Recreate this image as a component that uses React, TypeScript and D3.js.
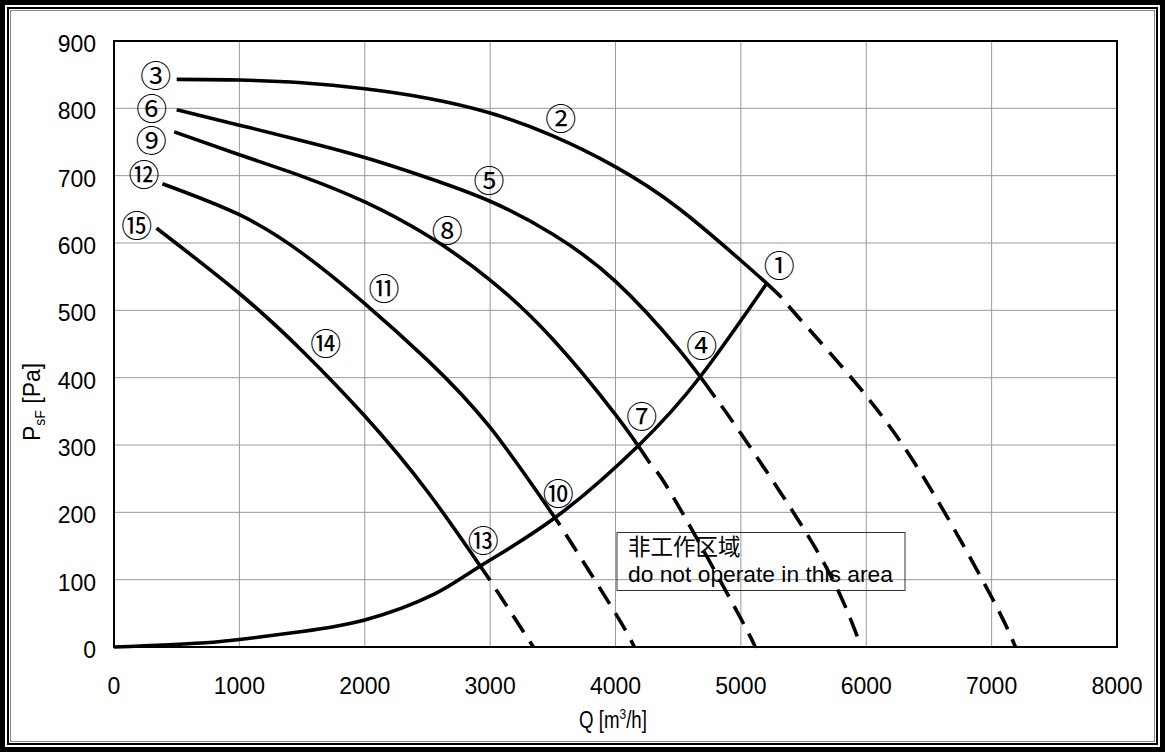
import React from "react";
import * as d3 from "d3";

type Pt = [number, number];

// Axis ticks
const xTicks = [0, 1000, 2000, 3000, 4000, 5000, 6000, 7000, 8000];
const yTicks = [0, 100, 200, 300, 400, 500, 600, 700, 800, 900];

// Fan curves (Q [m3/h], PsF [Pa]) – solid (operating) and dashed (non-operating) parts
const curve1Solid: Pt[] = [[500, 843], [1000, 842], [1500, 838], [2000, 829], [2500, 815], [3000, 793], [3500, 759], [4000, 713], [4500, 652], [5000, 574], [5206, 540], [5325, 519]];
const curve1Dash: Pt[] = [[5325, 519], [5500, 481], [6000, 373], [6500, 239], [7000, 74], [7190, 0]];

const curve2Solid: Pt[] = [[500, 798], [1000, 775], [1500, 752], [2000, 727], [2500, 697], [3000, 662], [3500, 613], [4000, 543], [4500, 443], [4794, 371]];
const curve2Dash: Pt[] = [[4794, 371], [5000, 317], [5500, 176], [5800, 74], [5960, 0]];

const curve3Solid: Pt[] = [[480, 765], [1000, 731], [1500, 699], [2000, 661], [2500, 611], [3000, 545], [3500, 457], [4000, 345], [4275, 273]];
const curve3Dash: Pt[] = [[4275, 273], [4500, 210], [5000, 42], [5110, 0]];

const curve4Solid: Pt[] = [[386, 688], [1000, 642], [1500, 585], [2000, 510], [2500, 426], [3000, 326], [3557, 181]];
const curve4Dash: Pt[] = [[3557, 181], [4000, 50], [4150, 0]];

const curve5Solid: Pt[] = [[340, 622], [1000, 525], [1500, 440], [2000, 343], [2500, 231], [2999, 99]];
const curve5Dash: Pt[] = [[2999, 99], [3345, 0]];

// System (operating limit) curve
const systemCurve: Pt[] = [[0, 0], [700, 6], [1085, 13], [1500, 23], [2000, 40], [2550, 78], [2919, 120], [3517, 192], [4182, 299], [4674, 401], [5206, 540]];

// Circled point labels
const labelTexts = ["①", "②", "③", "④", "⑤", "⑥", "⑦", "⑧", "⑨", "⑩", "⑪", "⑫", "⑬", "⑭", "⑮"];
const labelQ = [5307, 3563, 333, 4687, 2991, 301, 4209, 2658, 298, 3544, 2154, 239, 2946, 1689, 181];
const labelP = [569, 788, 852, 451, 696, 803, 345, 622, 755, 231, 535, 704, 161, 453, 629];

const noteLines = ["非工作区域", "do not operate in this area"];

const solidCurves = [curve1Solid, curve2Solid, curve3Solid, curve4Solid, curve5Solid];
const dashCurves = [curve1Dash, curve2Dash, curve3Dash, curve4Dash, curve5Dash];

const W = 1165;
const H = 752;
const PL = 114, PR = 1117, PT = 41, PB = 647;

export default function App() {
  const x = d3.scaleLinear().domain([0, 8000]).range([PL, PR]);
  const y = d3.scaleLinear().domain([0, 900]).range([PB, PT]);
  const line = d3
    .line<Pt>()
    .x((d) => x(d[0]))
    .y((d) => y(d[1]))
    .curve(d3.curveNatural);

  const sans = "'Liberation Sans', Arial, sans-serif";

  return (
    <svg
      width={W}
      height={H}
      viewBox={`0 0 ${W} ${H}`}
      style={{ position: "absolute", left: 0, top: 0, display: "block", background: "#fff" }}
    >
      <rect x={0} y={0} width={W} height={H} fill="#fff" />
      {/* frames */}
      <rect x={2.5} y={2.5} width={W - 5} height={H - 5} fill="none" stroke="#000" strokeWidth={5} />
      <rect x={8} y={8} width={W - 16} height={H - 16} fill="none" stroke="#000" strokeWidth={2} />
      <rect x={10.5} y={10.5} width={W - 21} height={H - 21} fill="none" stroke="#888" strokeWidth={1} />

      {/* grid */}
      <g stroke="#9a9a9a" strokeWidth={1}>
        {xTicks.slice(1, -1).map((t) => (
          <line key={"gx" + t} x1={x(t)} x2={x(t)} y1={PT} y2={PB} />
        ))}
        {yTicks.slice(1, -1).map((t) => (
          <line key={"gy" + t} x1={PL} x2={PR} y1={y(t)} y2={y(t)} />
        ))}
      </g>

      {/* note box */}
      <rect x={617} y={532.5} width={288} height={58} fill="none" stroke="#333" strokeWidth={1} />
      <text x={628} y={555} fontFamily="'Noto Sans CJK SC', sans-serif" fontSize={22.5} fill="#000">
        {noteLines[0]}
      </text>
      <text x={628} y={582} fontFamily={sans} fontSize={22.8} fill="#000">
        {noteLines[1]}
      </text>

      {/* plot frame */}
      <rect x={PL} y={PT} width={PR - PL} height={PB - PT} fill="none" stroke="#000" strokeWidth={2} />

      {/* curves */}
      <g fill="none" stroke="#000" strokeWidth={3.6} strokeLinecap="butt" strokeLinejoin="round">
        {solidCurves.map((c, i) => (
          <path key={"s" + i} d={line(c) || ""} />
        ))}
        {dashCurves.map((c, i) => (
          <path key={"d" + i} d={line(c) || ""} strokeDasharray="20 11" strokeDashoffset={20} />
        ))}
        <path d={line(systemCurve) || ""} />
      </g>

      {/* labels */}
      {labelTexts.map((t, i) => (
        <text
          key={"l" + i}
          x={x(labelQ[i])}
          y={y(labelP[i])}
          textAnchor="middle"
          dominantBaseline="central"
          fontFamily="'Noto Sans CJK JP', sans-serif"
          fontSize={31}
          fill="#000"
        >
          {t}
        </text>
      ))}

      {/* tick labels */}
      <g fontFamily={sans} fontSize={23} fill="#000">
        {yTicks.map((t) => (
          <text key={"ty" + t} x={96} y={y(t) + 11} textAnchor="end">
            {t}
          </text>
        ))}
        {xTicks.map((t) => (
          <text key={"tx" + t} x={x(t)} y={694} textAnchor="middle">
            {t}
          </text>
        ))}
      </g>

      {/* axis titles */}
      <text
        transform="translate(613, 728) scale(0.85, 1.05)"
        textAnchor="middle"
        fontFamily={sans}
        fontSize={22}
        fill="#000"
      >
        Q [m<tspan dy={-9} fontSize={14}>3</tspan>
        <tspan dy={9}>/h]</tspan>
      </text>
      <text
        transform="translate(40, 441) rotate(-90)"
        textAnchor="start"
        fontFamily={sans}
        fontSize={23}
        fill="#000"
      >
        P<tspan dy={5} fontSize={14}>sF</tspan>
        <tspan dy={-5}> [Pa]</tspan>
      </text>
    </svg>
  );
}
